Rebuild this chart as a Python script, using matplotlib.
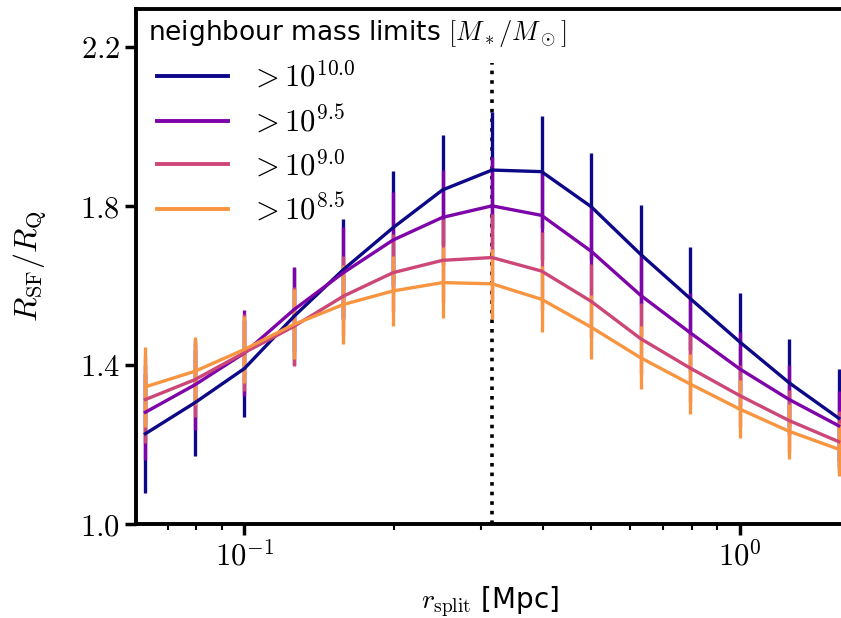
import numpy as np
import matplotlib
matplotlib.use("Agg")
import matplotlib.pyplot as plt
from matplotlib.lines import Line2D

plt.rcParams['mathtext.fontset'] = 'cm'
plt.rcParams['font.family'] = ['DejaVu Sans']

# separation radius bins (log10 Mpc)
log_r = [-1.2, -1.1, -1.0, -0.9, -0.8, -0.7, -0.6, -0.5, -0.4, -0.3, -0.2, -0.1, 0.0, 0.1, 0.2]

labels = [r'$>10^{10.0}$', r'$>10^{9.5}$', r'$>10^{9.0}$', r'$>10^{8.5}$']
colors = ['#0d0887', '#7e03a8', '#cc4778', '#f89540']

ratio_100 = [1.227, 1.305, 1.391, 1.522, 1.640, 1.745, 1.840, 1.890, 1.886, 1.798, 1.678, 1.567, 1.458, 1.355, 1.266]
err_100 = [0.149, 0.133, 0.123, 0.122, 0.128, 0.143, 0.139, 0.145, 0.141, 0.135, 0.124, 0.129, 0.124, 0.109, 0.125]

ratio_95 = [1.281, 1.350, 1.430, 1.539, 1.632, 1.714, 1.771, 1.800, 1.776, 1.686, 1.575, 1.481, 1.390, 1.313, 1.247]
err_95 = [0.120, 0.113, 0.108, 0.107, 0.114, 0.120, 0.119, 0.123, 0.113, 0.114, 0.100, 0.100, 0.093, 0.088, 0.088]

ratio_90 = [1.313, 1.363, 1.431, 1.497, 1.573, 1.632, 1.663, 1.670, 1.636, 1.560, 1.466, 1.392, 1.323, 1.260, 1.207]
err_90 = [0.110, 0.093, 0.097, 0.100, 0.100, 0.097, 0.105, 0.109, 0.097, 0.093, 0.090, 0.085, 0.078, 0.078, 0.076]

ratio_85 = [1.345, 1.384, 1.439, 1.502, 1.552, 1.586, 1.607, 1.604, 1.565, 1.495, 1.418, 1.352, 1.289, 1.233, 1.188]
err_85 = [0.100, 0.085, 0.084, 0.088, 0.100, 0.088, 0.090, 0.088, 0.083, 0.081, 0.079, 0.076, 0.072, 0.070, 0.067]

ratios = [ratio_100, ratio_95, ratio_90, ratio_85]
errs = [err_100, err_95, err_90, err_85]

xticks = [0.1, 1.0]
xticklabels = [r'$10^{-1}$', r'$10^{0}$']
yticks = [1.0, 1.4, 1.8, 2.2]
yticklabels = [r'$1.0$', r'$1.4$', r'$1.8$', r'$2.2$']

r = 10 ** np.array(log_r)

fig = plt.figure(figsize=(8.41, 6.18), dpi=100)
ax = fig.add_axes([0.1617, 0.1521, 0.842, 0.834])

handles = []
for y, e, c, lab in zip(ratios, errs, colors, labels):
    ax.errorbar(r, y, yerr=e, color=c, lw=2.4, elinewidth=2.4, capsize=0)
    handles.append(Line2D([], [], color=c, lw=2.8, label=lab))

ax.vlines(10 ** -0.5, 1.0, 2.16, colors='k', linestyles=':', lw=2.6, zorder=0)

ax.set_xscale('log')
ax.set_xlim(0.0604, 1.625)
ax.set_ylim(1.0, 2.296)
ax.set_xticks(xticks)
ax.set_xticklabels(xticklabels)
ax.set_yticks(yticks)
ax.set_yticklabels(yticklabels)

ax.tick_params(which='major', labelsize=22, length=8, width=2.5)
ax.tick_params(which='minor', length=4, width=1.5)
for s in ['left', 'bottom', 'top']:
    ax.spines[s].set_linewidth(2.8)
ax.spines['right'].set_visible(False)

ax.set_xlabel(r'$r_{\rm split}$ [Mpc]', fontsize=20, labelpad=10)
ax.set_ylabel(r'$R_{\rm SF}/R_{\rm Q}$', fontsize=23, labelpad=22)

ax.text(0.017, 0.951, r'neighbour mass limits $[M_*/M_\odot]$', fontsize=19,
        transform=ax.transAxes, ha='left', va='center')
ax.legend(handles=handles, loc='upper left', bbox_to_anchor=(0.030, 0.899),
          frameon=False, fontsize=22, handlelength=2.3, handletextpad=0.75,
          labelspacing=0.39, borderaxespad=0, borderpad=0)

fig.savefig('out.png', dpi=100)
